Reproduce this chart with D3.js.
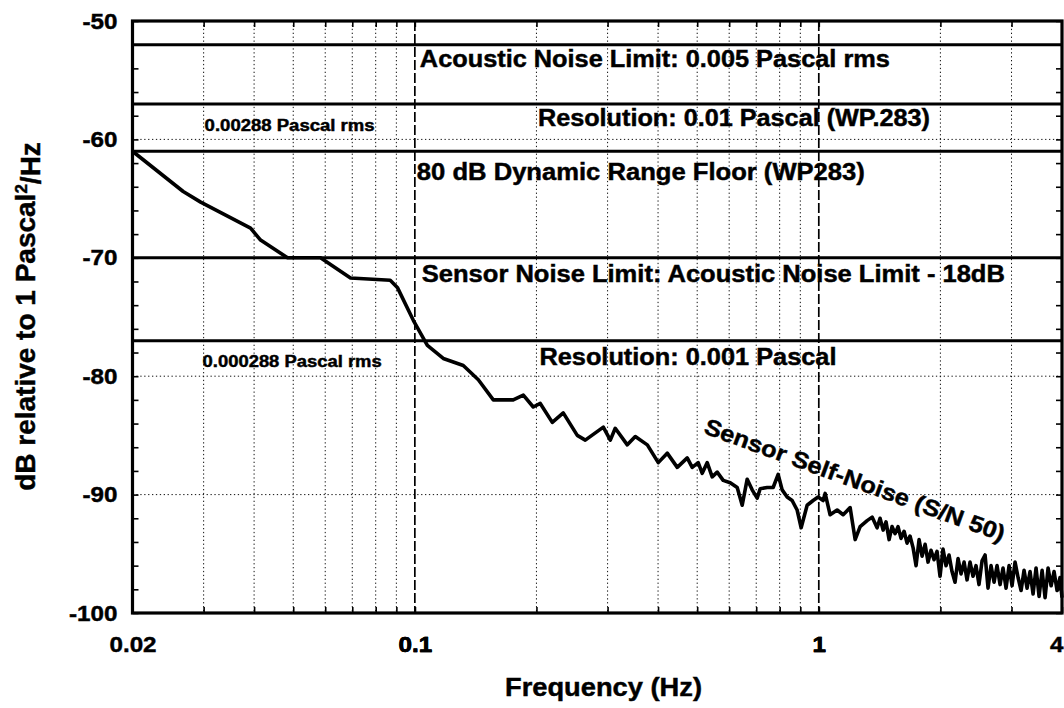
<!DOCTYPE html>
<html>
<head>
<meta charset="utf-8">
<script src="https://cdn.jsdelivr.net/npm/d3@7"></script>
<style>
  html, body { margin: 0; padding: 0; background: #fff; }
  svg { display: block; font-family: "Liberation Sans", Arial, sans-serif; font-weight: bold; }
  .heavy { stroke: #000; stroke-width: 0.45px; paint-order: stroke; }
</style>
</head>
<body>
<svg id="chart" width="1064" height="708"></svg>
<script>
// Sensor self-noise spectrum (S/N 50): frequency (Hz) and level (dB re 1 Pa^2/Hz)
const freqHz = [
  0.0200, 0.0267, 0.0295, 0.0392, 0.0415, 0.0484, 0.0584, 0.0693, 0.0869, 0.0905,
  0.0992, 0.1074, 0.1176, 0.1318, 0.1436, 0.1564, 0.1752, 0.1856, 0.1964, 0.2044,
  0.2189, 0.2330, 0.2524, 0.2642, 0.2928, 0.3047, 0.3134, 0.3357, 0.3513, 0.3763,
  0.4005, 0.4215, 0.4463, 0.4724, 0.4860, 0.5029, 0.5145, 0.5294, 0.5446, 0.5604,
  0.5799, 0.6036, 0.6281, 0.6462, 0.6649, 0.6840, 0.7038, 0.7159, 0.7451, 0.7709,
  0.7932, 0.8115, 0.8349, 0.8590, 0.8838, 0.9043, 0.9357, 0.9682, 0.9962, 1.0250,
  1.0368, 1.0666, 1.1102, 1.1489, 1.1956, 1.2302, 1.2657, 1.3172, 1.3552, 1.3942,
  1.418, 1.443, 1.467, 1.493, 1.518, 1.545, 1.571, 1.598, 1.626, 1.654,
  1.682, 1.712, 1.741, 1.771, 1.802, 1.833, 1.864, 1.896, 1.929, 1.962,
  1.996, 2.030, 2.065, 2.101, 2.137, 2.174, 2.212, 2.250, 2.289, 2.328,
  2.368, 2.409, 2.450, 2.492, 2.536, 2.580, 2.624, 2.669, 2.716, 2.762,
  2.810, 2.858, 2.908, 2.958, 3.009, 3.061, 3.114, 3.168, 3.222, 3.278,
  3.334, 3.392, 3.450, 3.510, 3.571, 3.632, 3.695, 3.759, 3.823, 3.889,
  3.956, 4.000
];
const noiseDb = [
  -61.0, -64.4, -65.3, -67.5, -68.5, -70.0, -70.0, -71.7, -71.9, -72.5,
  -75.3, -77.4, -78.5, -79.1, -80.3, -82.0, -82.0, -81.6, -82.6, -82.3,
  -83.9, -83.1, -85.0, -85.4, -84.3, -85.4, -84.4, -85.8, -85.1, -85.8,
  -87.3, -86.5, -87.7, -86.9, -87.7, -87.3, -88.2, -87.3, -88.5, -88.1,
  -88.8, -89.0, -89.4, -90.9, -88.7, -89.6, -90.3, -89.5, -89.4, -89.4,
  -88.3, -89.6, -90.2, -90.5, -91.3, -92.8, -90.9, -90.5, -90.2, -90.5,
  -89.9, -91.7, -91.3, -91.7, -91.1, -93.8, -92.7, -92.2, -91.9, -92.8,
  -92.0, -93.0, -92.3, -93.8, -92.7, -93.3, -92.7, -93.7, -93.1, -94.1,
  -93.5, -94.5, -96.0, -93.8, -95.2, -94.2, -95.7, -94.7, -95.5, -94.8,
  -96.9, -94.6, -96.0, -95.1, -96.5, -97.4, -95.4, -96.7, -95.7, -97.2,
  -95.7, -96.9, -96.0, -97.6, -95.6, -95.1, -97.9, -96.0, -97.4, -96.0,
  -97.6, -96.2, -97.9, -96.0, -97.7, -95.7, -97.0, -98.1, -96.4, -97.9,
  -96.5, -98.4, -96.2, -98.6, -96.4, -98.7, -96.2, -97.7, -96.5, -98.1,
  -97.0, -98.7
];

// Reference levels drawn as heavy horizontal rules (dB)
const levelDb = [-52, -57, -61, -70, -77];

// Level annotations
const levelText = [
  "Acoustic Noise Limit: 0.005 Pascal rms",
  "Resolution: 0.01 Pascal (WP.283)",
  "80 dB Dynamic Range Floor (WP283)",
  "Sensor Noise Limit: Acoustic Noise Limit - 18dB",
  "Resolution: 0.001 Pascal"
];
const rmsText = ["0.00288 Pascal rms", "0.000288 Pascal rms"];
const curveText = "Sensor Self-Noise (S/N 50)";

// Axes
const xTickValues = [0.02, 0.1, 1, 4];
const xTickLabels = ["0.02", "0.1", "1", "4"];
const yTickValues = [-100, -90, -80, -70, -60, -50];
const yTickLabels = ["-100", "-90", "-80", "-70", "-60", "-50"];
const xGridMinor = [0.03, 0.04, 0.05, 0.06, 0.07, 0.08, 0.09,
                    0.2, 0.3, 0.4, 0.5, 0.6, 0.7, 0.8, 0.9, 2, 3];
const xGridMajor = [0.1, 1];
const xTitle = "Frequency (Hz)";

// ---------------------------------------------------------------------------
const svg = d3.select("#chart");
const W = 1064, H = 708;
const m = { l: 132.5, r: 1062, t: 21, b: 613 };

const x = d3.scaleLog().domain([0.02, 4]).range([m.l, m.r]);
const y = d3.scaleLinear().domain([-100, -50]).range([m.b, m.t]);

svg.append("rect").attr("width", W).attr("height", H).attr("fill", "#fff");

// stretch text horizontally by a factor (wide bold lettering)
function widen(sel, k) {
  sel.each(function () {
    const w = this.getComputedTextLength();
    if (w > 0) d3.select(this).attr("textLength", w * k).attr("lengthAdjust", "spacingAndGlyphs");
  });
}

// dotted minor grid
const grid = svg.append("g");
grid.selectAll("line.vmin").data(xGridMinor).join("line")
  .attr("x1", d => x(d)).attr("x2", d => x(d))
  .attr("y1", m.t).attr("y2", m.b)
  .attr("stroke", "#111").attr("stroke-width", 1).attr("stroke-dasharray", "1.3,2.6");
grid.selectAll("line.hmin").data(yTickValues.filter(v => v > -100 && v < -50)).join("line")
  .attr("x1", m.l).attr("x2", m.r)
  .attr("y1", d => y(d)).attr("y2", d => y(d))
  .attr("stroke", "#111").attr("stroke-width", 1).attr("stroke-dasharray", "1.3,2.6");
// dashed decade lines
grid.selectAll("line.vmaj").data(xGridMajor).join("line")
  .attr("x1", d => x(d)).attr("x2", d => x(d))
  .attr("y1", m.t).attr("y2", m.b)
  .attr("stroke", "#000").attr("stroke-width", 1.7).attr("stroke-dasharray", "10,3");

// heavy level rules
svg.append("g").selectAll("line").data(levelDb).join("line")
  .attr("x1", m.l).attr("x2", m.r)
  .attr("y1", d => y(d)).attr("y2", d => y(d))
  .attr("stroke", "#000").attr("stroke-width", 3);

// axes with inward ticks
const yMinor = d3.range(-100, -49, 2);
const yLeft = svg.append("g").attr("transform", `translate(${m.l},0)`)
  .call(d3.axisLeft(y).tickValues(yMinor).tickSizeInner(-6).tickSizeOuter(0).tickPadding(15)
    .tickFormat(d => { const i = yTickValues.indexOf(d); return i >= 0 ? yTickLabels[i] : ""; }));
const yRight = svg.append("g").attr("transform", `translate(${m.r},0)`)
  .call(d3.axisRight(y).tickValues(yMinor).tickSizeInner(-6).tickSizeOuter(0).tickFormat(""));
const xAll = xGridMinor.concat(xGridMajor);
const xTop = svg.append("g").attr("transform", `translate(0,${m.t})`)
  .call(d3.axisTop(x).tickValues(xAll).tickSizeInner(-6).tickSizeOuter(0).tickFormat(""));
const xBottom = svg.append("g").attr("transform", `translate(0,${m.b})`)
  .call(d3.axisBottom(x).tickValues(xTickValues.concat(xAll)).tickSizeInner(-6).tickSizeOuter(0).tickPadding(23)
    .tickFormat(d => { const i = xTickValues.indexOf(d); return i >= 0 ? xTickLabels[i] : ""; }));

[yLeft, yRight, xTop, xBottom].forEach(g => {
  g.attr("font-family", null).attr("font-size", null);
  g.select(".domain").remove();
  g.selectAll(".tick line").attr("stroke", "#000").attr("stroke-width", 1.6);
  g.selectAll(".tick text").attr("fill", "#000").attr("class", "heavy").style("font-size", "22px");
});
widen(yLeft.selectAll(".tick text"), 1.1);
widen(xBottom.selectAll(".tick text"), 1.1);
// keep the last frequency label inside the page edge
xBottom.selectAll(".tick text").filter(d => d === 4)
  .attr("text-anchor", "end").attr("x", 1);

// noise spectrum
const pts = freqHz.map((f, i) => [f, noiseDb[i]]);
svg.append("path").datum(pts)
  .attr("fill", "none").attr("stroke", "#000").attr("stroke-width", 3.6)
  .attr("stroke-linejoin", "round")
  .attr("d", d3.line().x(d => x(d[0])).y(d => y(d[1])));

// plot frame
svg.append("rect")
  .attr("x", m.l).attr("y", m.t).attr("width", m.r - m.l).attr("height", m.b - m.t)
  .attr("fill", "none").attr("stroke", "#000").attr("stroke-width", 3.2);

// level annotations
const notes = [
  { text: levelText[0], f: 0.1,  dx: 5,  db: -53.9,  w: 470, size: 23 },
  { text: levelText[1], f: 0.2,  dx: 1.5, db: -58.87, w: 392, size: 23 },
  { text: levelText[2], f: 0.1,  dx: 2,  db: -63.43, w: 448, size: 23 },
  { text: levelText[3], f: 0.1,  dx: 7,  db: -72.04, w: 583, size: 23 },
  { text: levelText[4], f: 0.2,  dx: 3,  db: -79.05, w: 297, size: 23 },
  { text: rmsText[0],   f: 0.03, dx: 1,  db: -59.29, w: 170, size: 16 },
  { text: rmsText[1],   f: 0.03, dx: -1, db: -79.2,  w: 179, size: 16 }
];
svg.append("g").selectAll("text").data(notes).join("text")
  .attr("class", "heavy")
  .attr("x", d => x(d.f) + d.dx).attr("y", d => y(d.db))
  .attr("textLength", d => d.w).attr("lengthAdjust", "spacingAndGlyphs")
  .style("font-size", d => d.size + "px")
  .attr("fill", "#000")
  .text(d => d.text);

// curve label, running along the spectrum
svg.append("text")
  .attr("class", "heavy")
  .attr("transform", `translate(${x(0.516)},${y(-84.8)}) rotate(20)`)
  .attr("textLength", 318).attr("lengthAdjust", "spacingAndGlyphs")
  .style("font-size", "23px").attr("fill", "#000")
  .text(curveText);

// axis titles
svg.append("text")
  .attr("class", "heavy")
  .attr("x", 505).attr("y", 696)
  .attr("textLength", 197).attr("lengthAdjust", "spacingAndGlyphs")
  .style("font-size", "26px").attr("fill", "#000")
  .text(xTitle);

const yTitle = svg.append("text")
  .attr("class", "heavy")
  .attr("transform", `translate(35,${(133 + 500) / 2}) rotate(-90)`)
  .attr("text-anchor", "middle")
  .style("font-size", "28px").attr("fill", "#000");
yTitle.append("tspan").text("dB relative to 1 Pascal");
yTitle.append("tspan").attr("dy", "-0.45em").style("font-size", "17px").text("2");
yTitle.append("tspan").attr("dy", "0.45em").text("/Hz");
</script>
</body>
</html>
